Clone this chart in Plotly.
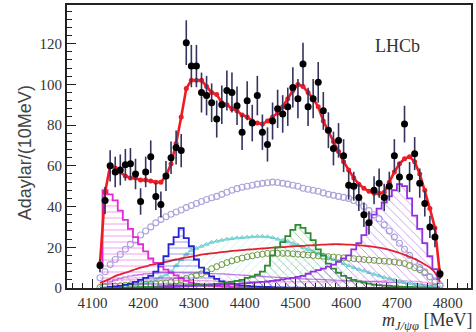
import plotly.graph_objects as go

# bin centres (MeV)
mass = list(range(4115, 4795, 10))

data = [11, 43, 60, 57, 58, 60.5, 61, 56, 42.5, 57,
        64.5, 45, 41, 55, 64, 69, 67.5, 120.5, 109, 109,
        96, 94.5, 91, 83, 90, 97, 96, 89.5, 76.5, 92,
        81, 94.5, 76.5, 70.5, 82, 88, 85.5, 89, 98.5, 93,
        110, 89, 93, 101, 87, 77.5, 68.5, 72.5, 65, 50.5,
        50, 44.5, 36, 32, 48, 51.5, 44.5, 50, 65, 54.5,
        80.5, 54.5, 66, 51.5, 41.5, 30, 25, 7]
data_err = [3.3, 6.6, 7.7, 7.5, 7.6, 7.8, 7.8, 7.5, 6.5, 7.5,
            8.0, 6.7, 6.4, 7.4, 8.0, 8.3, 8.2, 11.0, 10.4, 10.4,
            9.8, 9.7, 9.5, 9.1, 9.5, 9.8, 9.8, 9.5, 8.7, 9.6,
            9.0, 9.7, 8.7, 8.4, 9.1, 9.4, 9.2, 9.4, 9.9, 9.6,
            10.5, 9.4, 9.6, 10.0, 9.3, 8.8, 8.3, 8.5, 8.1, 7.1,
            7.1, 6.7, 6.0, 5.7, 6.9, 7.2, 6.7, 7.1, 8.1, 7.4,
            9.0, 7.4, 8.1, 7.2, 6.4, 5.5, 5.0, 2.6]

total_fit = [12, 47, 60, 59, 57, 55, 54, 54, 53, 53,
             52.5, 52, 52, 55, 61, 71, 84, 98, 102, 102,
             102, 99, 96, 95, 91, 90, 88, 87, 85, 84,
             82, 81, 80.5, 82, 84, 86, 89, 93, 97, 100,
             99, 96, 93, 89, 82, 77, 72, 67, 62, 58,
             54, 51, 49, 47.5, 46.5, 46.5, 47, 52, 57, 61,
             63.5, 64.5, 62, 56, 48, 39, 29.5, 6]

x4140 = [10, 48, 46, 43, 38, 33.5, 29, 25, 21.5, 18,
         14.5, 12.3, 10.5, 9, 7.5, 6.2, 4.8, 3.6, 2.6, 2,
         1.5, 1.2, 1, 0.8, 0.7, 0.6, 0.5, 0.4, 0.3, 0.3,
         0.2, 0.2, 0.2, 0.1, 0.1, 0.1, 0, 0, 0, 0,
         0, 0, 0, 0, 0, 0, 0, 0, 0, 0,
         0, 0, 0, 0, 0, 0, 0, 0, 0, 0,
         0, 0, 0, 0, 0, 0, 0, 0]

x4274 = [0, 0, 0.5, 0.8, 1, 1.5, 2, 3, 4, 5,
         6, 8, 11.7, 15.6, 21.5, 25, 29.4, 24.5, 20.5, 14,
         10, 7.5, 5.7, 4.5, 3.3, 2.6, 2.1, 1.5, 1.2, 1,
         0.8, 0.7, 0.6, 0.5, 0.4, 0.3, 0.3, 0.2, 0.2, 0.2,
         0.1, 0.1, 0.1, 0.1, 0.1, 0, 0, 0, 0, 0,
         0, 0, 0, 0, 0, 0, 0, 0, 0, 0,
         0, 0, 0, 0, 0, 0, 0, 0]

x4500 = [0, 0, 0, 0, 0, 0, 0.2, 0.3, 0.4, 0.5,
         0.6, 0.7, 0.8, 0.9, 1, 1.1, 1.2, 1.3, 1.4, 1.5,
         1.6, 1.7, 1.8, 2, 2.2, 2.5, 3, 3.5, 4, 5,
         5.5, 6.5, 8, 11, 16, 20, 22.5, 25.5, 28.5, 31,
         29.5, 27, 23.5, 19, 16, 12, 9.5, 7.5, 6, 5,
         4, 3.2, 2.6, 2.1, 1.7, 1.4, 1.2, 1, 0.8, 0.7,
         0.6, 0.5, 0.4, 0.3, 0.3, 0.2, 0.1, 0]

x4700 = [0, 0, 0, 0, 0, 0, 0, 0, 0, 0,
         0.1, 0.2, 0.3, 0.4, 0.5, 0.6, 0.7, 0.8, 0.9, 1,
         1.1, 1.2, 1.3, 1.4, 1.5, 1.6, 1.8, 2, 2.2, 2.4,
         2.6, 2.8, 3, 3.2, 3.5, 3.8, 4.2, 4.6, 5, 5.5,
         6, 7, 8, 8.8, 9.5, 10.5, 11.5, 13, 14.5, 16,
         19, 22, 26, 32, 36, 39, 42, 45, 48, 51,
         50, 44, 35.5, 29, 22, 15.6, 9.3, 4.4]

nonres = [2.5, 3.5, 4.5, 5.8, 6.7, 7.5, 8.3, 9.2, 10, 10.6,
          11.3, 11.8, 12.3, 12.8, 13.4, 14, 14.5, 15, 15.4, 15.9,
          16.4, 16.7, 17, 17.3, 17.6, 17.9, 18.2, 18.4, 18.6, 18.8,
          19, 19.2, 19.4, 19.6, 19.8, 20, 20.1, 20.3, 20.5, 20.6,
          20.7, 20.9, 21, 21.2, 21.3, 21.4, 21.5, 21.5, 21.4, 21.3,
          21.2, 21, 20.8, 20.5, 20.2, 19.8, 19.3, 18.7, 18, 17.2,
          16.3, 15.3, 14.3, 13, 11.5, 10, 7.5, 3]

broad = [5, 8, 11.5, 14, 16.5, 19, 21.5, 23.5, 26, 28,
         30, 32, 33.7, 35, 36.2, 37.3, 38.3, 39.5, 40.5, 41.5,
         42.5, 43.5, 44.3, 45, 46, 47, 48, 48.8, 49.5, 50,
         50.5, 51, 51.4, 51.7, 52, 51.8, 51.4, 51, 50.5, 50,
         49, 48.5, 48, 47.5, 46.7, 46, 45.5, 45, 44.5, 44,
         43, 42, 40, 38, 36, 34, 31, 28, 25, 22,
         19, 16, 13, 10, 8, 5.5, 3.5, 1.5]

cyan_comp = [0, 0, 0, 0, 0, 0.5, 1, 1.5, 2, 2.5,
             3, 4, 5.5, 6.5, 8, 11, 14, 16.5, 18.5, 19.5,
             20.5, 21.5, 22.5, 23, 23.5, 24, 24.3, 24.6, 24.8, 25,
             25.2, 25.4, 25.4, 25.2, 24.8, 24, 23.5, 23, 22, 21,
             20, 19, 18, 17, 16, 15, 14, 13, 12, 11,
             10, 9.2, 8.4, 7.6, 6.8, 6, 5.3, 4.6, 4, 3.4,
             2.8, 2.3, 1.8, 1.4, 1, 0.7, 0.4, 0.2]

olive_comp = [0.3, 0.5, 0.7, 0.9, 1.1, 1.3, 1.5, 1.7, 1.8, 1.9,
              2, 2.1, 2.2, 2.5, 3, 3.5, 4, 4.7, 5.4, 6.2,
              7, 8, 9.5, 10.5, 11.5, 12.5, 13.3, 14, 14.7, 15.3,
              15.8, 16.3, 16.6, 17, 17, 17, 17, 17, 16.8, 16.6,
              16.4, 16.2, 16, 15.8, 15.6, 15.4, 15.2, 15, 14.8, 14.6,
              14.4, 14.2, 14, 13.8, 13.6, 13.4, 13.2, 13, 12.8, 12.4,
              12, 11, 10, 9, 7.5, 5.5, 3, 1]

violet_comp = [1, 2, 3, 4, 4.8, 5.4, 5.9, 6.3, 6.6, 6.9,
               7.1, 7.3, 7.4, 7.5, 7.5, 7.5, 7.5, 7.4, 7.4, 7.3,
               7.3, 7.2, 7.1, 7, 6.9, 6.8, 6.6, 6.5, 6.3, 6.2,
               6, 5.8, 5.7, 5.5, 5.4, 5.2, 5.1, 4.9, 4.8, 4.6,
               4.5, 4.4, 4.3, 4.2, 4.1, 4, 3.9, 3.8, 3.7, 3.6,
               3.5, 3.4, 3.3, 3.2, 3.1, 3, 2.9, 2.8, 2.7, 2.6,
               2.5, 2.3, 2.1, 1.9, 1.6, 1.3, 0.9, 0.4]

pink_comp = [1.5, 3, 3.5, 3.8, 4, 4, 4, 4, 4, 4,
             4, 4, 4, 3.9, 3.9, 3.8, 3.8, 3.7, 3.7, 3.6,
             3.6, 3.5, 3.5, 3.4, 3.4, 3.3, 3.3, 3.2, 3.2, 3.1,
             3.1, 3, 3, 3, 3, 3, 3, 3, 3, 3,
             3, 3, 3, 3, 3, 3, 3, 3, 3.1, 3.1,
             3.2, 3.2, 3.3, 3.3, 3.4, 3.4, 3.5, 3.5, 3.5, 3.5,
             3.5, 3.4, 3.3, 3.1, 2.8, 2.4, 1.8, 0.8]

x_ticks = [4100, 4200, 4300, 4400, 4500, 4600, 4700, 4800]
y_ticks = [0, 20, 40, 60, 80, 100, 120]

W, H = 476, 332
L, R, T, B = 67, 3, 4, 44
PW, PH = W - L - R, H - T - B


def px(xp):
    return (xp - L) / PW


def py(yp):
    return (H - B - yp) / PH


fig = go.Figure()


def hatched(y, color, shape, width=1.6, name=""):
    fig.add_trace(go.Scatter(
        x=mass, y=y, mode="lines", line=dict(color=color, width=width, shape="hvh"),
        fill="tozeroy", fillcolor="rgba(0,0,0,0)",
        fillpattern=dict(shape=shape, fgcolor=color, bgcolor="rgba(255,255,255,0)",
                         size=6, solidity=0.15),
        hoverinfo="skip", showlegend=False, name=name))


# low background components
hatched(pink_comp, "rgba(240,110,200,0.8)", "/", 1.0)
hatched(violet_comp, "rgba(170,80,220,0.8)", "\\", 1.2)
hatched(cyan_comp, "rgba(110,210,215,0.7)", "/", 1.0)

fig.add_trace(go.Scatter(x=mass, y=cyan_comp, mode="lines+markers",
                         line=dict(color="#7fd6d6", width=1.2, shape="spline"),
                         marker=dict(symbol="triangle-up-open", size=4, color="#6fcfd0"),
                         hoverinfo="skip", showlegend=False))
fig.add_trace(go.Scatter(x=mass, y=olive_comp, mode="markers",
                         marker=dict(symbol="circle-open", size=6, color="#6f9a3c",
                                     line=dict(width=1)),
                         hoverinfo="skip", showlegend=False))
fig.add_trace(go.Scatter(x=mass, y=broad, mode="markers",
                         marker=dict(symbol="circle-open", size=6, color="#aaa4dc",
                                     line=dict(width=1.1)),
                         hoverinfo="skip", showlegend=False))
fig.add_trace(go.Scatter(x=mass, y=nonres, mode="lines",
                         line=dict(color="#e0202a", width=1.8, shape="spline"),
                         hoverinfo="skip", showlegend=False))

# resonance components (hatched histograms)
hatched(x4140, "#e22ad6", "-", 1.8)
hatched(x4274, "#2424d0", "-", 1.8)
hatched(x4500, "#2f8a34", "\\", 1.8)
hatched(x4700, "#9030e0", "\\", 1.8)

# total fit
fig.add_trace(go.Scatter(x=mass, y=total_fit, mode="lines+markers",
                         line=dict(color="#ee1c24", width=2.6),
                         marker=dict(color="#ee1c24", size=5),
                         hoverinfo="skip", showlegend=False))

# data
fig.add_trace(go.Scatter(x=mass, y=data, mode="markers",
                         marker=dict(color="black", size=7),
                         error_y=dict(type="data", array=data_err, visible=True,
                                      color="#34345e", thickness=1.6, width=0),
                         hoverinfo="skip", showlegend=False))

tickfont = dict(family="Liberation Serif", size=15, color="#333333")

fig.update_layout(
    width=W, height=H,
    margin=dict(l=L, r=R, t=T, b=B),
    paper_bgcolor="white", plot_bgcolor="white",
    showlegend=False,
    xaxis=dict(range=[4050, 4846], tickvals=x_ticks, ticktext=[str(v) for v in x_ticks],
               ticks="inside", ticklen=9, tickwidth=1.3, tickcolor="#222",
               minor=dict(ticks="inside", dtick=20, ticklen=5, tickcolor="#222", tickwidth=1),
               showline=True, linecolor="#222", linewidth=2, mirror=True,
               showgrid=False, zeroline=False, tickfont=tickfont),
    yaxis=dict(range=[0, 139], tickvals=y_ticks, ticktext=[str(v) for v in y_ticks],
               ticks="inside", ticklen=9, tickwidth=1.3, tickcolor="#222",
               minor=dict(ticks="inside", dtick=4, ticklen=5, tickcolor="#222", tickwidth=1),
               showline=True, linecolor="#222", linewidth=2, mirror=True,
               showgrid=False, zeroline=False, tickfont=tickfont),
    annotations=[
        dict(text="Adaylar/(10MeV)", xref="paper", yref="paper", x=px(25.5), y=py(152),
             textangle=-90, showarrow=False, xanchor="center", yanchor="middle",
             font=dict(family="Liberation Sans", size=18, color="#444444")),
        dict(text="<i>m</i><sub><i>J/ψφ</i></sub> [MeV]", xref="paper", yref="paper",
             x=px(476), y=py(322), showarrow=False, xanchor="right", yanchor="middle",
             font=dict(family="Liberation Serif", size=18, color="#333333")),
        dict(text="LHCb", xref="paper", yref="paper", x=px(399), y=py(45),
             showarrow=False, xanchor="center", yanchor="middle",
             font=dict(family="Liberation Serif", size=18, color="#333333")),
    ],
)

fig.write_html("out.html", config={"displayModeBar": False},
               post_script="document.body.style.margin='0px';document.body.style.padding='0px';")
